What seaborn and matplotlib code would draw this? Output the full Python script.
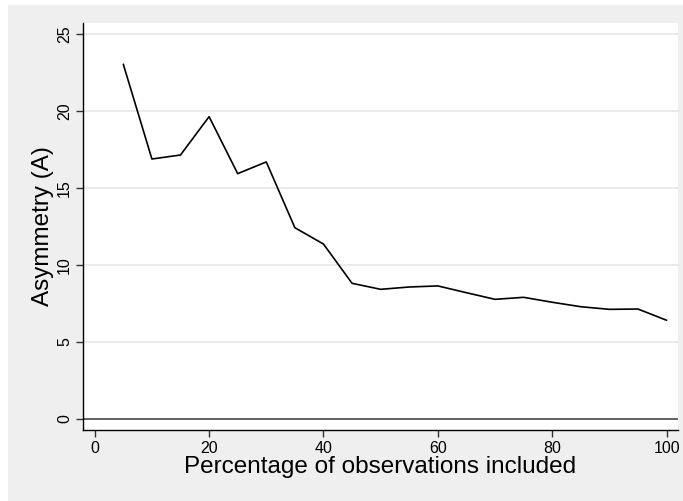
import matplotlib
matplotlib.use("Agg")
import matplotlib.pyplot as plt
import seaborn as sns
import pandas as pd
from matplotlib.patches import Rectangle

pct_included = [5, 10, 15, 20, 25, 30, 35, 40, 45, 50, 55, 60, 65, 70, 75, 80, 85, 90, 95, 100]
asymmetry = [23.03, 16.88, 17.14, 19.63, 15.93, 16.69, 12.42, 11.36, 8.81, 8.42, 8.57, 8.64,
             8.2, 7.77, 7.9, 7.58, 7.29, 7.12, 7.14, 6.41]
x_ticks = [0, 20, 40, 60, 80, 100]
y_ticks = [0, 5, 10, 15, 20, 25]

df = pd.DataFrame({"pct": pct_included, "asym": asymmetry})

sns.set_theme(style="white")
plt.rcParams['font.family'] = ['Liberation Sans', 'DejaVu Sans']

W, H = 683, 501
fig = plt.figure(figsize=(W / 100, H / 100), dpi=100, facecolor="white")
fig.patches.append(Rectangle((8 / W, 0), 1 - 8 / W, 1 - 5 / H, transform=fig.transFigure,
                             facecolor="#efefef", edgecolor="none", zorder=-10))

ax = fig.add_axes([83 / W, 1 - 430 / H, (678 - 83) / W, (430 - 23) / H])
ax.set_facecolor("white")

for yv in y_ticks[1:]:
    ax.axhline(yv, color="#e6e6e6", lw=1.1, zorder=1)
ax.axhline(0, color="#555555", lw=1.3, zorder=2)

sns.lineplot(data=df, x="pct", y="asym", ax=ax, color="black", lw=1.2, zorder=3)

ax.set_xlim(-2.05, 102)
ax.set_ylim(-0.714, 25.71)
ax.set_xticks(x_ticks)
ax.set_yticks(y_ticks)
ax.set_xticklabels([str(v) for v in x_ticks], fontsize=11.5)
ax.set_yticklabels([str(v) for v in y_ticks], fontsize=11.5, rotation=90, va="center")
ax.tick_params(axis="both", direction="out", length=5, width=1, color="#333333",
               labelcolor="black", pad=3, left=True, bottom=True)

for s in ["top", "right"]:
    ax.spines[s].set_visible(False)
for s in ["left", "bottom"]:
    ax.spines[s].set_color("black")
    ax.spines[s].set_linewidth(1)

ax.set_xlabel("Percentage of observations included", fontsize=17.5, labelpad=0, color="black")
ax.set_ylabel("Asymmetry (A)", fontsize=17.5, labelpad=2, color="black")

fig.savefig("out.png", dpi=100, facecolor="white")
